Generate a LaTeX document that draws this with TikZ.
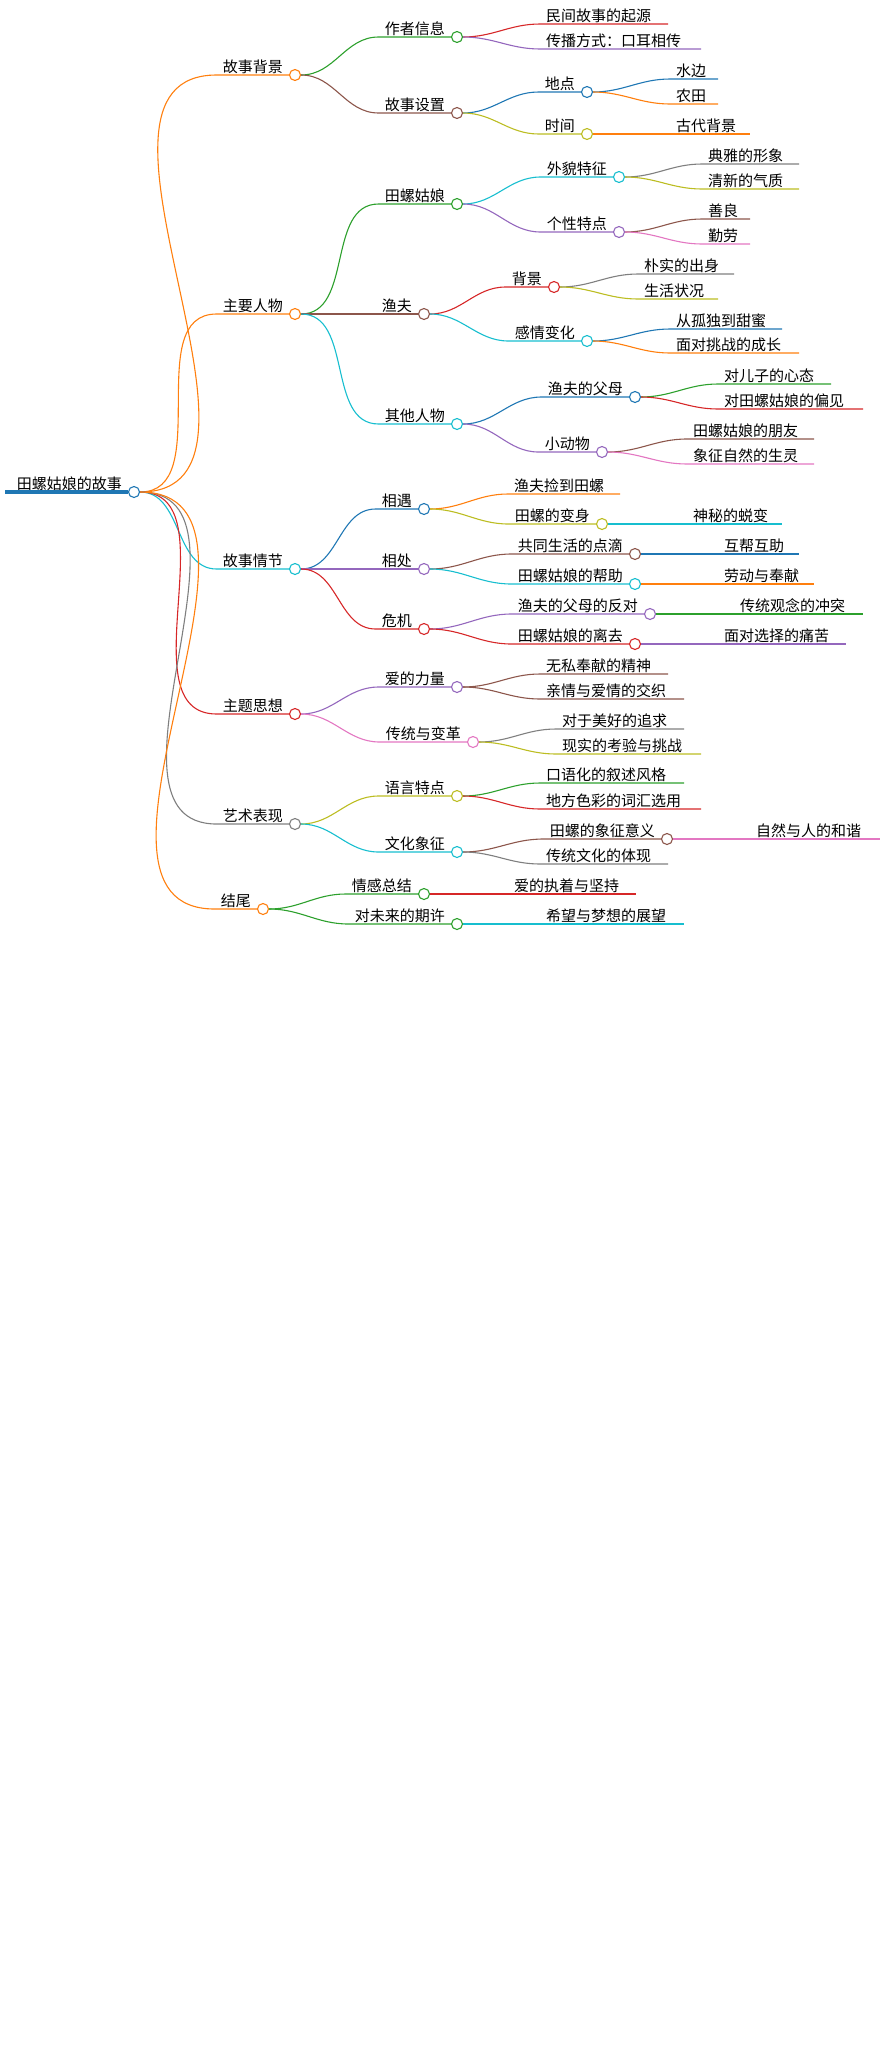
\documentclass[tikz,border=0pt]{standalone}
\usepackage{fontspec}
\setmainfont{Noto Sans CJK SC}
\usepackage{tikz}

\definecolor{cblue}{HTML}{1F77B4}
\definecolor{corange}{HTML}{FF7F0E}
\definecolor{cgreen}{HTML}{2CA02C}
\definecolor{cred}{HTML}{D62728}
\definecolor{cpurple}{HTML}{9467BD}
\definecolor{cbrown}{HTML}{8C564B}
\definecolor{cpink}{HTML}{E377C2}
\definecolor{cgray}{HTML}{7F7F7F}
\definecolor{colive}{HTML}{BCBD22}
\definecolor{ccyan}{HTML}{17BECF}

\tikzset{
  lbl/.style={inner xsep=6pt, inner ysep=1pt, font=\fontsize{15}{17}\selectfont},
  edge/.style={draw=#1, line width=1.1pt},
  dot/.style={circle, draw=#1, fill=white, line width=1.1pt, minimum size=11pt, inner sep=0pt}
}

% branche avec cercle : nom, parent, couleur, x, y, texte
\newcommand{\kid}[6]{%
  \node[dot=#3] (#1-c) at (#4,#5) {};
  \node[lbl, anchor=south east] (#1) at ([xshift=-6pt]#1-c.center) {#6};
  \draw[edge=#3] (#2-c.east) to[out=0,in=180] (#1.south west) -- (#1-c.west);
}
% feuille : nom, parent, couleur, x du texte, y, x de fin, texte
\newcommand{\leaf}[7]{%
  \node[lbl, anchor=south west] (#1) at (#4-6,#5) {#7};
  \draw[edge=#3] (#2-c.east) to[out=0,in=180] (#1.south west) -- (#6,#5);
}

\begin{document}
\begin{tikzpicture}[x=1pt, y=-1pt]
  \useasboundingbox (0,0) rectangle (880,2046);

  % Racine
  \coordinate (root-s) at (5,492);
  \node[dot=cblue] (root-c) at (134,492) {};
  \node[lbl, anchor=south east] (root) at ([xshift=-6pt]root-c.center) {田螺姑娘的故事};
  \draw[cblue, line width=3.5pt] (root-s) -- (root-c.west);

  % Contexte
  \kid{bg}{root}{corange}{295}{75}{故事背景}
  \kid{zz}{bg}{cgreen}{457}{37}{作者信息}
  \leaf{mj}{zz}{cred}{546}{24}{668}{民间故事的起源}
  \leaf{cb}{zz}{cpurple}{546}{49}{701}{传播方式：口耳相传}
  \kid{sz}{bg}{cbrown}{457}{113}{故事设置}
  \kid{dd}{sz}{cblue}{587}{92}{地点}
  \leaf{sb}{dd}{cblue}{676}{79}{718}{水边}
  \leaf{nt}{dd}{corange}{676}{104}{718}{农田}
  \kid{sj}{sz}{colive}{587}{134}{时间}
  \leaf{gd}{sj}{corange}{676}{134}{750}{古代背景}

  % Personnages
  \kid{rw}{root}{corange}{295}{314}{主要人物}
  \kid{tl}{rw}{cgreen}{457}{204}{田螺姑娘}
  \kid{wm}{tl}{ccyan}{619}{177}{外貌特征}
  \leaf{dy}{wm}{cgray}{708}{164}{799}{典雅的形象}
  \leaf{qx}{wm}{colive}{708}{189}{799}{清新的气质}
  \kid{gx}{tl}{cpurple}{619}{232}{个性特点}
  \leaf{sl}{gx}{cbrown}{708}{219}{750}{善良}
  \leaf{ql}{gx}{cpink}{708}{244}{750}{勤劳}
  \kid{yf}{rw}{cbrown}{424}{314}{渔夫}
  \kid{bj}{yf}{cred}{554}{287}{背景}
  \leaf{ps}{bj}{cgray}{644}{274}{734}{朴实的出身}
  \leaf{sh}{bj}{colive}{644}{299}{718}{生活状况}
  \kid{gq}{yf}{ccyan}{587}{341}{感情变化}
  \leaf{gd2}{gq}{cblue}{676}{329}{782}{从孤独到甜蜜}
  \leaf{mt}{gq}{corange}{676}{353}{799}{面对挑战的成长}
  \kid{qt}{rw}{ccyan}{457}{424}{其他人物}
  \kid{fm}{qt}{cblue}{635}{397}{渔夫的父母}
  \leaf{des}{fm}{cgreen}{724}{384}{831}{对儿子的心态}
  \leaf{dpj}{fm}{cred}{724}{409}{863}{对田螺姑娘的偏见}
  \kid{xd}{qt}{cpurple}{602}{452}{小动物}
  \leaf{py}{xd}{cbrown}{693}{439}{814}{田螺姑娘的朋友}
  \leaf{sl2}{xd}{cpink}{693}{464}{814}{象征自然的生灵}

  % Intrigue
  \kid{qj}{root}{ccyan}{295}{569}{故事情节}
  \kid{xy}{qj}{cblue}{424}{509}{相遇}
  \leaf{jd}{xy}{corange}{514}{494}{620}{渔夫捡到田螺}
  \kid{bs}{xy}{colive}{602}{524}{田螺的变身}
  \leaf{tb}{bs}{ccyan}{693}{524}{782}{神秘的蜕变}
  \kid{xc}{qj}{cpurple}{424}{569}{相处}
  \kid{gt}{xc}{cbrown}{635}{554}{共同生活的点滴}
  \leaf{hb}{gt}{cblue}{724}{554}{799}{互帮互助}
  \kid{bz}{xc}{ccyan}{635}{584}{田螺姑娘的帮助}
  \leaf{ld}{bz}{corange}{724}{584}{814}{劳动与奉献}
  \kid{wj}{qj}{cred}{424}{629}{危机}
  \kid{fd}{wj}{cpurple}{650}{614}{渔夫的父母的反对}
  \leaf{ct2}{fd}{cgreen}{740}{614}{863}{传统观念的冲突}
  \kid{lq}{wj}{cred}{635}{644}{田螺姑娘的离去}
  \leaf{tk}{lq}{cpurple}{724}{644}{846}{面对选择的痛苦}

  % Thèmes
  \kid{zt}{root}{cred}{295}{714}{主题思想}
  \kid{al}{zt}{cpurple}{457}{687}{爱的力量}
  \leaf{ws}{al}{cbrown}{546}{674}{668}{无私奉献的精神}
  \leaf{qq}{al}{cbrown}{546}{699}{684}{亲情与爱情的交织}
  \kid{ct}{zt}{cpink}{473}{742}{传统与变革}
  \leaf{zq}{ct}{cgray}{562}{729}{684}{对于美好的追求}
  \leaf{xs}{ct}{colive}{562}{754}{701}{现实的考验与挑战}

  % Art
  \kid{ys}{root}{cgray}{295}{824}{艺术表现}
  \kid{yy}{ys}{colive}{457}{796}{语言特点}
  \leaf{ky}{yy}{cgreen}{546}{783}{684}{口语化的叙述风格}
  \leaf{df}{yy}{cred}{546}{809}{701}{地方色彩的词汇选用}
  \kid{wh}{ys}{ccyan}{457}{852}{文化象征}
  \kid{xz}{wh}{cbrown}{667}{839}{田螺的象征意义}
  \leaf{hx}{xz}{cpink}{756}{839}{880}{自然与人的和谐}
  \leaf{ctwh}{wh}{cgray}{546}{864}{668}{传统文化的体现}

  % Fin
  \kid{jw}{root}{corange}{263}{909}{结尾}
  \kid{qg}{jw}{cgreen}{424}{894}{情感总结}
  \leaf{zzj}{qg}{cred}{514}{894}{636}{爱的执着与坚持}
  \kid{wl}{jw}{cgreen}{457}{924}{对未来的期许}
  \leaf{xw}{wl}{ccyan}{546}{924}{684}{希望与梦想的展望}
\end{tikzpicture}
\end{document}
